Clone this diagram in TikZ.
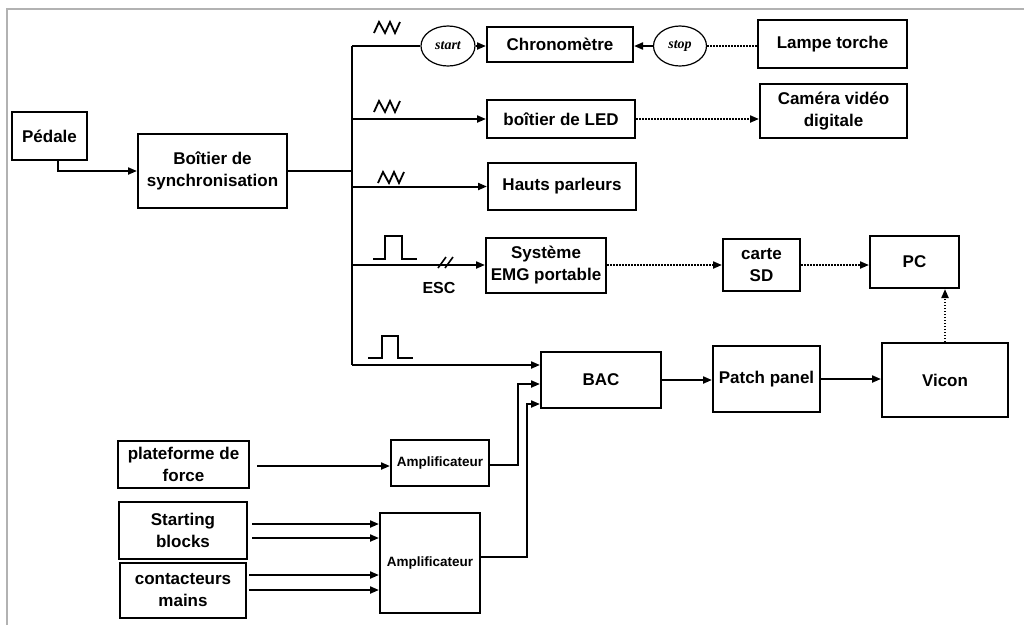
\documentclass[tikz,border=0pt]{standalone}
\usepackage{fontspec}
\setmainfont{Liberation Sans}
\newfontfamily\timesfont{Liberation Serif}
\usetikzlibrary{arrows.meta,shapes.geometric}
\tikzset{
  x=1pt, y=-1pt,
  lw/.style={line width=2pt},
  boxnode/.style={draw, lw, align=center, inner sep=0pt,
    font=\bfseries\fontsize{17}{22}\selectfont},
  ampnode/.style={boxnode, font=\bfseries\fontsize{13.5}{16}\selectfont},
  ellnode/.style={draw, line width=1.2pt, ellipse, inner sep=0pt,
    font=\timesfont\itshape\bfseries\fontsize{14}{16}\selectfont},
  arr/.style={lw, -{Triangle[length=9pt,width=7pt]}},
  dotarr/.style={lw, dash pattern=on 1.5pt off 1.5pt, -{Triangle[length=9pt,width=7pt]}},
  dotline/.style={lw, dash pattern=on 1.5pt off 1.5pt},
  sig/.style={line width=1.8pt},
}
\newcommand{\bx}[6]{\node[#1, minimum width=#4pt, minimum height=#5pt] (#2) at #3 {#6};}
\begin{document}
\begin{tikzpicture}
\useasboundingbox (0,0) rectangle (1024,625);
\fill[white] (0,0) rectangle (1024,625);
% frame
\draw[line width=1.5pt, gray!60] (7,625) -- (7,9) -- (1024,9);

% boxes
\bx{boxnode}{pedale}{(49.5,136)}{75}{48}{Pédale}
\bx{boxnode}{sync}{(212.5,171)}{149}{74}{Boîtier de\\synchronisation}
\bx{boxnode}{chrono}{(560,44)}{146}{35}{Chronomètre}
\bx{ellnode}{start}{(448,46)}{54}{40}{start}
\bx{ellnode}{stop}{(680,46)}{53}{40}{stop}
\bx{boxnode}{lampe}{(832.5,44)}{149}{48}{Lampe torche}
\bx{boxnode}{led}{(561,119)}{148}{38}{boîtier de LED}
\bx{boxnode}{camera}{(833.5,111)}{147}{54}{Caméra vidéo\\digitale}
\bx{boxnode}{hauts}{(562,186.5)}{148}{47}{Hauts parleurs}
\bx{boxnode}{emg}{(546,265)}{120}{55}{Système\\EMG portable}
\bx{boxnode}{sd}{(761.5,265)}{77}{52}{carte\\SD}
\bx{boxnode}{pc}{(914.5,262)}{89}{52}{PC}
\bx{boxnode}{bac}{(601,380)}{120}{56}{BAC}
\bx{boxnode}{patch}{(766.5,379)}{107}{66}{Patch panel}
\bx{boxnode}{vicon}{(945,380)}{126}{74}{Vicon}
\bx{boxnode}{plat}{(183.5,464.5)}{131}{47}{plateforme de\\force}
\bx{ampnode}{amp1}{(440,463)}{98}{46}{Amplificateur}
\bx{ampnode}{amp2}{(430,563)}{100}{100}{Amplificateur}
\bx{boxnode}{sb}{(183,530.5)}{128}{57}{Starting\\blocks}
\bx{boxnode}{cm}{(183,590.5)}{126}{55}{contacteurs\\mains}

% bus
\coordinate (busTop) at (352,46);
\coordinate (busBot) at (352,365);
\coordinate (busLed) at (352,119);
\coordinate (busHp) at (352,186.5);
\coordinate (busEmg) at (352,265);
\draw[lw] (busTop) -- (busBot);
\draw[arr] ([xshift=8.5pt]pedale.south) |- (sync.west);
\draw[lw] (sync.east) -- (sync.east -| busTop);

% top row
\draw[lw] (busTop) -- (start.west);
\draw[arr] (start.east) -- (chrono.west |- start.east);
\draw[arr] (stop.west) -- (chrono.east |- stop.west);
\draw[dotline] (stop.east) -- (lampe.west |- stop.east);

\draw[arr] (busLed) -- (led.west);
\draw[dotarr] (led.east) -- (camera.west |- led.east);
\draw[arr] (busHp) -- (hauts.west);
\draw[arr] (busEmg) -- (emg.west);
\draw[dotarr] (emg.east) -- (sd.west);
\draw[dotarr] (sd.east) -- (pc.west |- sd.east);
\draw[arr] (busBot) -- (bac.west |- busBot);
\draw[arr] (bac.east) -- (patch.west |- bac.east);
\draw[arr] (patch.east) -- (vicon.west |- patch.east);
\draw[dotarr] (vicon.north) -- (vicon.north |- pc.south);

% bottom
\draw[arr] ([xshift=7pt,yshift=-1.5pt]plat.east) -- (amp1.west |- 0,466);
\draw[arr] ([yshift=-2pt]amp1.east) -| (518,384) -- (bac.west |- 0,384);
\draw[arr] ([yshift=6pt]amp2.east) -| (527,404) -- (bac.west |- 0,404);
\draw[arr] ([xshift=4pt,yshift=6.5pt]sb.east) -- (amp2.west |- 0,524);
\draw[arr] ([xshift=4pt,yshift=-7.5pt]sb.east) -- (amp2.west |- 0,538);
\draw[arr] ([xshift=2pt,yshift=15.5pt]cm.east) -- (amp2.west |- 0,575);
\draw[arr] ([xshift=2pt,yshift=0.5pt]cm.east) -- (amp2.west |- 0,590);

% signals
\draw[sig] (374,33) -- (379,22) -- (385,33) -- (390,22) -- (395,33) -- (400,22);
\draw[sig] (374,112) -- (379,101) -- (385,112) -- (390,101) -- (395,112) -- (400,101);
\draw[sig] (378,183) -- (383,172) -- (389,183) -- (394,172) -- (399,183) -- (404,172);
\draw[sig] (373,259) -- (385,259) -- (385,236) -- (402,236) -- (402,259) -- (417,259);
\draw[sig] (368,358) -- (382,358) -- (382,336) -- (398,336) -- (398,358) -- (413,358);
% double slash and ESC
\draw[line width=1.6pt] (438,268) -- (446,257);
\draw[line width=1.6pt] (445,268) -- (453,257);
\node[font=\bfseries\fontsize{16}{18}\selectfont] (esc) at (439,288) {ESC};
\end{tikzpicture}
\end{document}
